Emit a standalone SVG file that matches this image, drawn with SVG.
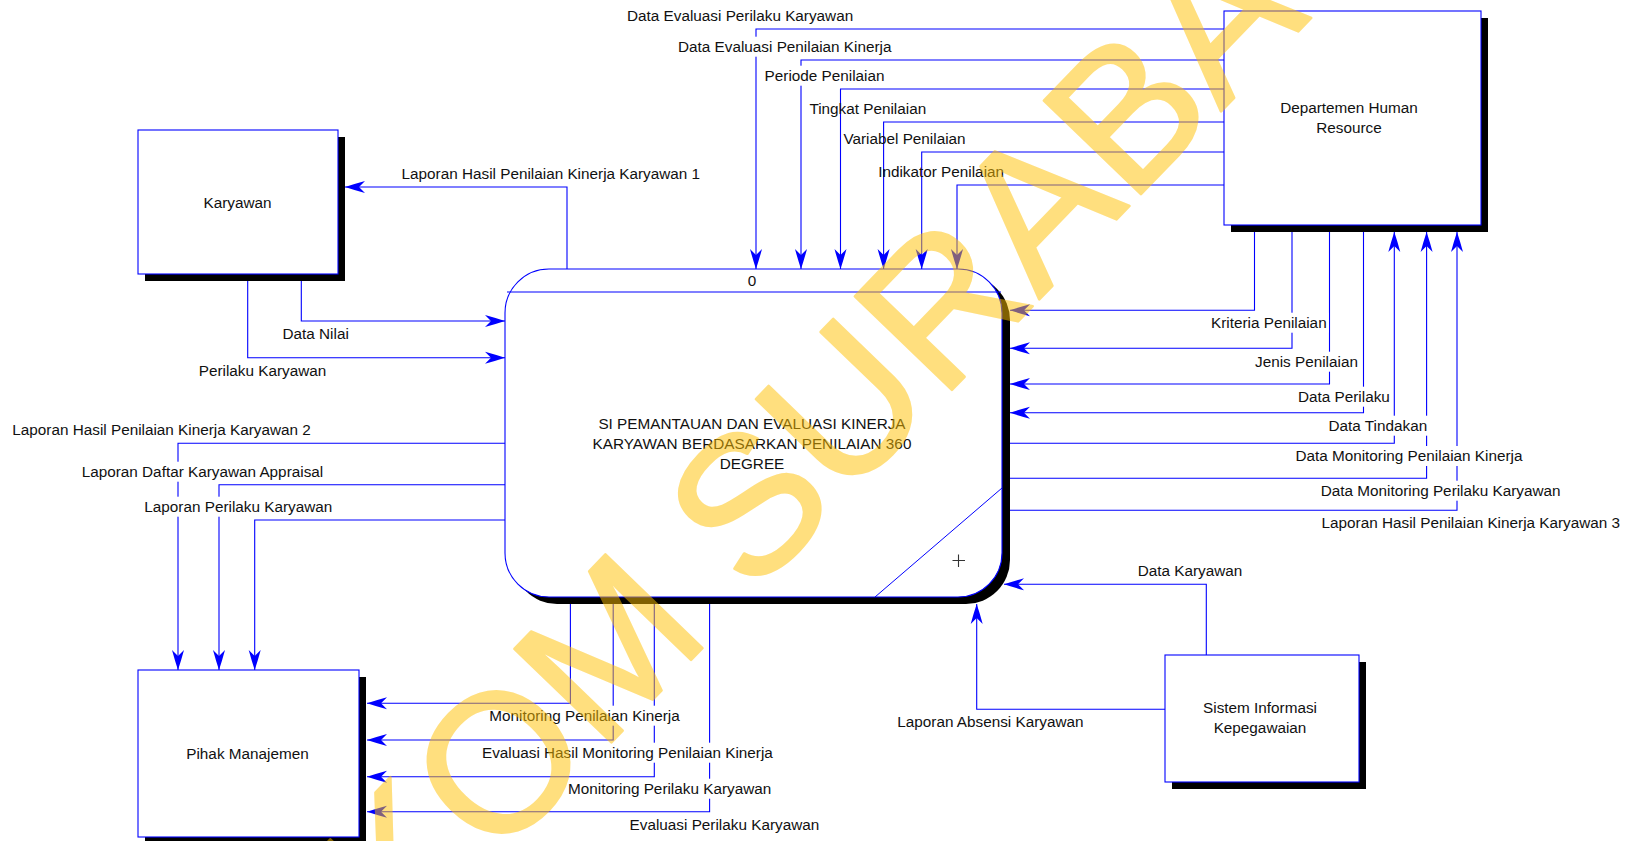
<svg xmlns="http://www.w3.org/2000/svg" width="1631" height="841" viewBox="0 0 1631 841">
<style>
text{font-family:"Liberation Sans",Arial,sans-serif;font-size:15.3px;fill:#111}
.ln{fill:none;stroke:#0000FF;stroke-width:1.1}
.arr{marker-end:url(#ah)}
.box{fill:#fff;stroke:#0000FF;stroke-width:1.1}
.sh{fill:#000}
.bg{fill:#fff}
.mid{text-anchor:middle}
.wm{font-size:196px;fill:#FFC000;stroke:#FFC000;stroke-width:2.5;stroke-linejoin:round}
</style>
<defs>
<marker id="ah" viewBox="-21 -7 22 14" refX="0" refY="0" markerWidth="22" markerHeight="14" markerUnits="userSpaceOnUse" orient="auto">
<path d="M0,0 Q-9,-3 -20,-6 L-14,0 L-20,6 Q-9,3 0,0 Z" fill="#0000FF"/>
</marker>
</defs>
<rect width="1631" height="841" fill="#fff"/>

<g id="connectors">
<path class="ln arr" d="M1224,29 H756 V269"/>
<path class="ln arr" d="M1224,60 H801 V269"/>
<path class="ln arr" d="M1224,89 H840.5 V269"/>
<path class="ln arr" d="M1224,122 H883.6 V269"/>
<path class="ln arr" d="M1224,152 H921.7 V269"/>
<path class="ln arr" d="M1224,185 H957 V269"/>
<path class="ln arr" d="M567,269 V187 H345"/>
<path class="ln arr" d="M301.3,274 V321 H505"/>
<path class="ln arr" d="M247.7,274 V357.7 H505"/>
<path class="ln arr" d="M505,443.3 H178 V670"/>
<path class="ln arr" d="M505,484.7 H219 V670"/>
<path class="ln arr" d="M505,520 H254.7 V670"/>
<path class="ln arr" d="M570.4,597 V703.3 H367"/>
<path class="ln arr" d="M613.2,597 V740 H367"/>
<path class="ln arr" d="M654.3,597 V776.7 H367"/>
<path class="ln arr" d="M709.6,597 V811.7 H367"/>
<path class="ln arr" d="M1254.5,225 V310.3 H1010"/>
<path class="ln arr" d="M1292,225 V348.3 H1010"/>
<path class="ln arr" d="M1329.5,225 V384 H1010"/>
<path class="ln arr" d="M1363.5,225 V412.7 H1010"/>
<path class="ln arr" d="M1002,443.3 H1394.3 V232"/>
<path class="ln arr" d="M1002,478.3 H1426.6 V232"/>
<path class="ln arr" d="M1002,510.3 H1457 V232"/>
<path class="ln arr" d="M1206.3,655 V584.3 H1004"/>
<path class="ln arr" d="M1165,709.3 H976.7 V604"/>
</g>

<g id="node-karyawan">
<rect class="sh" x="145" y="137" width="200" height="144"/>
<rect class="box" x="138" y="130" width="200" height="144"/>
<text class="mid" x="237.5" y="208.2">Karyawan</text>
</g>

<g id="node-dhr">
<rect class="sh" x="1231" y="18" width="257" height="214"/>
<rect class="box" x="1224" y="11" width="257" height="214"/>
<text class="mid" x="1349" y="113.2">Departemen Human</text>
<text class="mid" x="1349" y="133.2">Resource</text>
</g>

<g id="node-pihak">
<rect class="sh" x="145" y="677" width="221" height="167"/>
<rect class="box" x="138" y="670" width="221" height="167"/>
<text class="mid" x="247.5" y="758.5">Pihak Manajemen</text>
</g>

<g id="node-sik">
<rect class="sh" x="1172" y="662" width="194" height="127"/>
<rect class="box" x="1165" y="655" width="194" height="127"/>
<text class="mid" x="1260" y="713.2">Sistem Informasi</text>
<text class="mid" x="1260" y="733.2">Kepegawaian</text>
</g>

<g id="node-process">
<rect class="sh" x="513" y="276" width="497" height="328" rx="44" ry="44"/>
<rect class="box" x="505" y="269" width="497" height="328" rx="44" ry="44"/>
<line x1="507" y1="292" x2="1001" y2="292" stroke="#0000FF" stroke-width="1.1"/>
<text class="mid" x="752" y="286">0</text>
<text class="mid" x="752" y="428.8">SI PEMANTAUAN DAN EVALUASI KINERJA</text>
<text class="mid" x="752" y="448.8">KARYAWAN BERDASARKAN PENILAIAN 360</text>
<text class="mid" x="752" y="468.8">DEGREE</text>
<line x1="1002" y1="488" x2="875" y2="597" stroke="#0000FF" stroke-width="1"/>
<path d="M952.5,560.5 H965 M958.5,554.5 V567" stroke="#333" stroke-width="1.1" fill="none"/>
</g>

<g id="connector-labels">
<text x="627" y="21">Data Evaluasi Perilaku Karyawan</text>
<rect class="bg" x="676" y="36.7" width="217.4" height="20"/>
<text x="678" y="52">Data Evaluasi Penilaian Kinerja</text>
<rect class="bg" x="762.6" y="65.7" width="123.9" height="20"/>
<text x="764.6" y="81">Periode Penilaian</text>
<text x="809.4" y="114">Tingkat Penilaian</text>
<text x="843.4" y="143.6">Variabel Penilaian</text>
<text x="878.2" y="177">Indikator Penilaian</text>
<text x="401.6" y="178.6">Laporan Hasil Penilaian Kinerja Karyawan 1</text>
<text x="282.5" y="339">Data Nilai</text>
<text x="198.7" y="376">Perilaku Karyawan</text>
<text x="12.3" y="435.3">Laporan Hasil Penilaian Kinerja Karyawan 2</text>
<rect class="bg" x="79.7" y="461.7" width="246.4" height="20"/>
<text x="81.7" y="477">Laporan Daftar Karyawan Appraisal</text>
<rect class="bg" x="142.3" y="496.7" width="191.9" height="20"/>
<text x="144.3" y="512">Laporan Perilaku Karyawan</text>
<rect class="bg" x="1209" y="312.7" width="119.6" height="20"/>
<text x="1211" y="328">Kriteria Penilaian</text>
<rect class="bg" x="1253" y="351.7" width="106.9" height="20"/>
<text x="1255" y="367">Jenis Penilaian</text>
<rect class="bg" x="1296" y="386.7" width="95.8" height="20"/>
<text x="1298" y="402">Data Perilaku</text>
<rect class="bg" x="1326.5" y="415.7" width="103.5" height="20"/>
<text x="1328.5" y="431">Data Tindakan</text>
<rect class="bg" x="1293.4" y="446" width="231" height="20"/>
<text x="1295.4" y="461.3">Data Monitoring Penilaian Kinerja</text>
<rect class="bg" x="1318.7" y="480.7" width="243.8" height="20"/>
<text x="1320.7" y="496">Data Monitoring Perilaku Karyawan</text>
<text x="1321.6" y="528">Laporan Hasil Penilaian Kinerja Karyawan 3</text>
<rect class="bg" x="487.3" y="705.7" width="194.5" height="20"/>
<text x="489.3" y="721">Monitoring Penilaian Kinerja</text>
<rect class="bg" x="480" y="742.7" width="294.8" height="20"/>
<text x="482" y="758">Evaluasi Hasil Monitoring Penilaian Kinerja</text>
<rect class="bg" x="566" y="778.7" width="207.2" height="20"/>
<text x="568" y="794">Monitoring Perilaku Karyawan</text>
<text x="629.6" y="830.3">Evaluasi Perilaku Karyawan</text>
<text x="1137.7" y="576.3">Data Karyawan</text>
<text x="897.3" y="727.3">Laporan Absensi Karyawan</text>
</g>

<g opacity="0.5">
<text class="wm" transform="translate(191.8,1177.1) rotate(-46)" x="0" y="0">STIKOM SURABAYA</text>
</g>
</svg>
